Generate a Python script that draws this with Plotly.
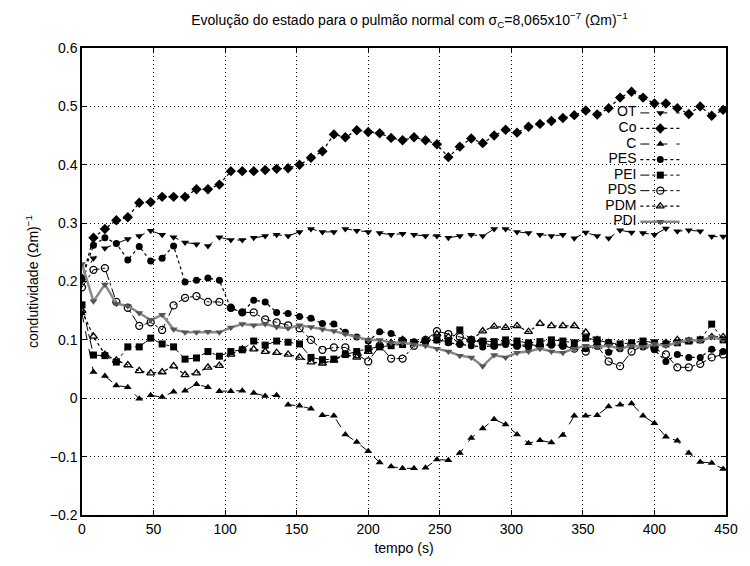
import plotly.graph_objects as go

# sampling instants (s)
tempo = list(range(0, 449, 8))

OT = [0.205, 0.24, 0.257, 0.265, 0.273, 0.278, 0.287, 0.28, 0.276, 0.267, 0.264, 0.261, 0.276, 0.271, 0.271,
      0.275, 0.278, 0.28, 0.278, 0.285, 0.29, 0.285, 0.285, 0.29, 0.287, 0.285, 0.283, 0.28, 0.282, 0.28,
      0.278, 0.278, 0.275, 0.278, 0.28, 0.278, 0.29, 0.29, 0.285, 0.283, 0.28, 0.278, 0.28,
      0.274, 0.284, 0.278, 0.274, 0.288, 0.284, 0.283, 0.28, 0.291, 0.286, 0.288, 0.286, 0.277, 0.277]

Co = [0.205, 0.275, 0.29, 0.305, 0.31, 0.335, 0.336, 0.345, 0.345, 0.345, 0.358, 0.358, 0.366, 0.389, 0.389,
      0.389, 0.391, 0.393, 0.394, 0.40, 0.412, 0.423, 0.452, 0.447, 0.459, 0.456, 0.454, 0.446, 0.442, 0.447,
      0.442, 0.435, 0.413, 0.431, 0.445, 0.437, 0.45, 0.46, 0.455, 0.465, 0.47, 0.475, 0.48,
      0.485, 0.493, 0.486, 0.497, 0.515, 0.525, 0.515, 0.505, 0.505, 0.497, 0.487, 0.50, 0.484, 0.494]

C = [0.145, 0.045, 0.038, 0.022, 0.019, -0.001, 0.005, 0.002, 0.011, 0.013, 0.024, 0.019, 0.012, 0.012, 0.013,
     0.009, 0.004, 0.005, -0.011, -0.013, -0.018, -0.029, -0.030, -0.062, -0.075, -0.091, -0.11, -0.117, -0.12, -0.12,
     -0.119, -0.105, -0.106, -0.094, -0.068, -0.052, -0.036, -0.045, -0.062, -0.077, -0.072, -0.076, -0.063,
     -0.030, -0.030, -0.029, -0.014, -0.011, -0.009, -0.030, -0.043, -0.066, -0.073, -0.094, -0.109, -0.111, -0.121]

PES = [0.205, 0.262, 0.275, 0.265, 0.237, 0.26, 0.235, 0.24, 0.261, 0.199, 0.202, 0.206, 0.202, 0.154, 0.147,
       0.168, 0.165, 0.147, 0.145, 0.14, 0.137, 0.128, 0.127, 0.113, 0.105, 0.098, 0.114, 0.111, 0.10, 0.097,
       0.098, 0.1, 0.095, 0.092, 0.09, 0.088, 0.09, 0.092, 0.09, 0.088, 0.09, 0.092, 0.09,
       0.088, 0.085, 0.09, 0.079, 0.085, 0.09, 0.088, 0.083, 0.063, 0.075, 0.07, 0.07, 0.084, 0.08]

PEI = [0.16, 0.074, 0.073, 0.062, 0.088, 0.088, 0.103, 0.093, 0.088, 0.067, 0.069, 0.08, 0.072, 0.08, 0.083,
       0.098, 0.091, 0.098, 0.096, 0.093, 0.07, 0.066, 0.067, 0.075, 0.08, 0.085, 0.088, 0.09, 0.092, 0.095,
       0.097, 0.1, 0.097, 0.117, 0.1, 0.098, 0.097, 0.1, 0.098, 0.095, 0.097, 0.1, 0.098,
       0.095, 0.103, 0.1, 0.095, 0.093, 0.095, 0.098, 0.095, 0.093, 0.095, 0.098, 0.1, 0.127, 0.1]

PDS = [0.19, 0.22, 0.223, 0.165, 0.155, 0.124, 0.13, 0.117, 0.159, 0.172, 0.175, 0.165, 0.165, 0.155, 0.147,
       0.147, 0.135, 0.13, 0.125, 0.12, 0.10, 0.083, 0.087, 0.087, 0.075, 0.063, 0.09, 0.068, 0.068, 0.09,
       0.1, 0.115, 0.11, 0.105, 0.1, 0.095, 0.09, 0.095, 0.09, 0.092, 0.09, 0.092, 0.09,
       0.085, 0.08, 0.09, 0.063, 0.055, 0.08, 0.09, 0.085, 0.075, 0.053, 0.053, 0.059, 0.07, 0.075]

PDM = [0.15, 0.106, 0.075, 0.065, 0.057, 0.047, 0.043, 0.045, 0.055, 0.04, 0.043, 0.053, 0.056, 0.075, 0.084,
       0.084, 0.08, 0.078, 0.075, 0.07, 0.062, 0.06, 0.065, 0.075, 0.07, 0.08, 0.09, 0.095, 0.1, 0.095,
       0.1, 0.11, 0.105, 0.095, 0.1, 0.115, 0.123, 0.121, 0.124, 0.114, 0.128, 0.124, 0.124,
       0.124, 0.113, 0.1, 0.095, 0.09, 0.092, 0.095, 0.09, 0.095, 0.1, 0.098, 0.1, 0.105, 0.105]

PDI = [0.23, 0.166, 0.195, 0.162, 0.158, 0.146, 0.134, 0.143, 0.118, 0.113, 0.113, 0.114, 0.113, 0.121, 0.127,
       0.125, 0.127, 0.122, 0.12, 0.125, 0.122, 0.118, 0.115, 0.11, 0.105, 0.1, 0.1, 0.095, 0.095, 0.092,
       0.09, 0.085, 0.08, 0.073, 0.07, 0.055, 0.074, 0.07, 0.078, 0.08, 0.085, 0.08, 0.078,
       0.085, 0.09, 0.088, 0.09, 0.085, 0.09, 0.088, 0.093, 0.09, 0.095, 0.1, 0.098, 0.105, 0.1]

series_names = ["OT", "Co", "C", "PES", "PEI", "PDS", "PDM", "PDI"]
series_values = [OT, Co, C, PES, PEI, PDS, PDM, PDI]

# line dash, line colour, line width, marker symbol, marker colour
styles = {
    "OT":  ("dash", "black", 1, "triangle-down", "black"),
    "Co":  ("dot", "black", 1.2, "diamond", "black"),
    "C":   ("dash", "black", 1, "triangle-up", "black"),
    "PES": ("dot", "black", 1.2, "circle", "black"),
    "PEI": ("dashdot", "black", 1, "square", "black"),
    "PDS": ("dashdot", "black", 1, "circle-open", "black"),
    "PDM": ("dot", "black", 1.2, "triangle-up-open", "black"),
    "PDI": ("solid", "#8a8a8a", 2.5, "triangle-down", "#555555"),
}
marker_size = {"circle": 7, "circle-open": 7, "square": 7, "diamond": 8,
               "triangle-up": 7, "triangle-down": 7, "triangle-up-open": 7}

FONT = "Liberation Sans Narrow, Liberation Sans, Arial, sans-serif"

fig = go.Figure()

for name, vals in zip(series_names, series_values):
    dash, lc, lw, sym, mc = styles[name]
    fig.add_trace(go.Scatter(
        x=tempo, y=vals, mode="lines+markers", name=name, showlegend=False,
        line=dict(color=lc, width=lw, dash=dash),
        marker=dict(symbol=sym, size=marker_size[sym], color=mc,
                    line=dict(color=mc, width=1.3 if "open" in sym else 0)),
    ))

# key drawn inside the plot, label to the left of its sample
key_y0, key_step = 0.861, 0.0333
key_rows = [key_y0 - k * key_step for k in range(len(series_names))]
for name, yk in zip(series_names, key_rows):
    dash, lc, lw, sym, mc = styles[name]
    fig.add_trace(go.Scatter(
        x=[0.867, 0.928], y=[yk, yk], xaxis="x2", yaxis="y2", mode="lines",
        line=dict(color=lc, width=lw, dash=dash), showlegend=False, hoverinfo="skip"))
    fig.add_trace(go.Scatter(
        x=[0.898], y=[yk], xaxis="x2", yaxis="y2", mode="markers",
        marker=dict(symbol=sym, size=marker_size[sym], color=mc,
                    line=dict(color=mc, width=1.3 if "open" in sym else 0)),
        showlegend=False, hoverinfo="skip"))
fig.add_trace(go.Scatter(
    x=[0.861] * len(series_names), y=key_rows, xaxis="x2", yaxis="y2",
    mode="text", text=series_names, textposition="middle left",
    textfont=dict(family=FONT, size=14, color="black"),
    showlegend=False, hoverinfo="skip"))

axis_common = dict(
    showline=True, linecolor="black", linewidth=1.5, mirror="allticks",
    ticks="inside", ticklen=5, tickcolor="black",
    showgrid=True, gridcolor="black", gridwidth=1, griddash="1px,3px",
    zeroline=False, tickfont=dict(family=FONT, size=14, color="black"),
)

fig.update_layout(
    width=750, height=566,
    margin=dict(l=82, r=13, t=48, b=49),
    paper_bgcolor="white", plot_bgcolor="white",
    font=dict(family=FONT, color="black"),
    title=dict(
        text="Evolução do estado para o pulmão normal com σ<sub>C</sub>=8,065x10<sup>−7</sup> (Ωm)<sup>−1</sup>",
        x=0.546, xanchor="center", y=0.965, yanchor="middle",
        font=dict(family=FONT, size=14, color="black")),
    xaxis=dict(range=[0, 450], tickvals=list(range(0, 451, 50)),
               title=dict(text="tempo (s)", font=dict(family=FONT, size=14), standoff=8),
               **axis_common),
    yaxis=dict(range=[-0.2, 0.6], dtick=0.1, tick0=0,
               title=dict(text="condutividade (Ωm)<sup>−1</sup>", font=dict(family=FONT, size=14), standoff=8),
               **axis_common),
    xaxis2=dict(range=[0, 1], overlaying="x", visible=False, fixedrange=True),
    yaxis2=dict(range=[0, 1], overlaying="y", visible=False, fixedrange=True),
)

fig.write_html("out.html")
